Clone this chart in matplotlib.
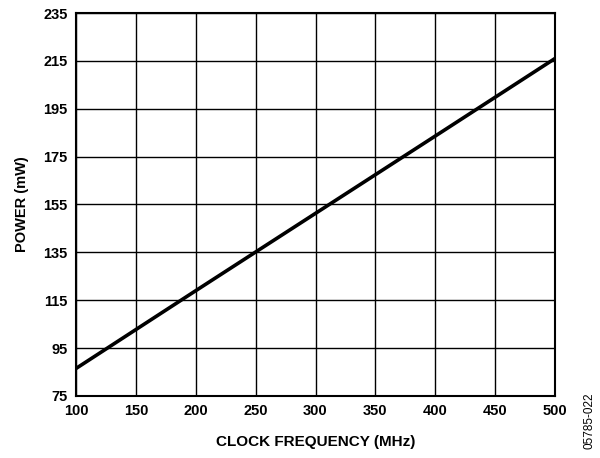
import matplotlib
matplotlib.use('Agg')
import matplotlib.pyplot as plt

plt.rcParams['font.family'] = ['Liberation Sans', 'DejaVu Sans']

# data
freq_mhz = [100, 200, 300, 400, 500]
power_mw = [86.5, 119.0, 151.3, 183.6, 216.0]
xticks = [100, 150, 200, 250, 300, 350, 400, 450, 500]
yticks = [75, 95, 115, 135, 155, 175, 195, 215, 235]

fig = plt.figure(figsize=(6, 4.58), dpi=100)
ax = fig.add_axes([0.1267, 0.1354, 0.7983, 0.8362])

ax.plot(freq_mhz, power_mw, color='black', lw=2.6, solid_capstyle='butt')

ax.set_xlim(100, 500)
ax.set_ylim(75, 235)
ax.set_xticks(xticks)
ax.set_yticks(yticks)
ax.grid(True, color='black', lw=1.0)
ax.set_axisbelow(True)
ax.tick_params(length=0, labelsize=10.5)
ax.tick_params(axis='x', pad=6)
ax.tick_params(axis='y', pad=6)
for lbl in ax.get_xticklabels() + ax.get_yticklabels():
    lbl.set_fontweight('bold')
for s in ax.spines.values():
    s.set_linewidth(1.5)

ax.set_xlabel('CLOCK FREQUENCY (MHz)', fontsize=11, fontweight='bold', labelpad=12)
ax.set_ylabel('POWER (mW)', fontsize=10.5, fontweight='bold', labelpad=10)

fig.text(0.983, 0.081, '05785-022', rotation=90, fontsize=8.5, ha='center', va='center')

fig.savefig('out.png', dpi=100)
